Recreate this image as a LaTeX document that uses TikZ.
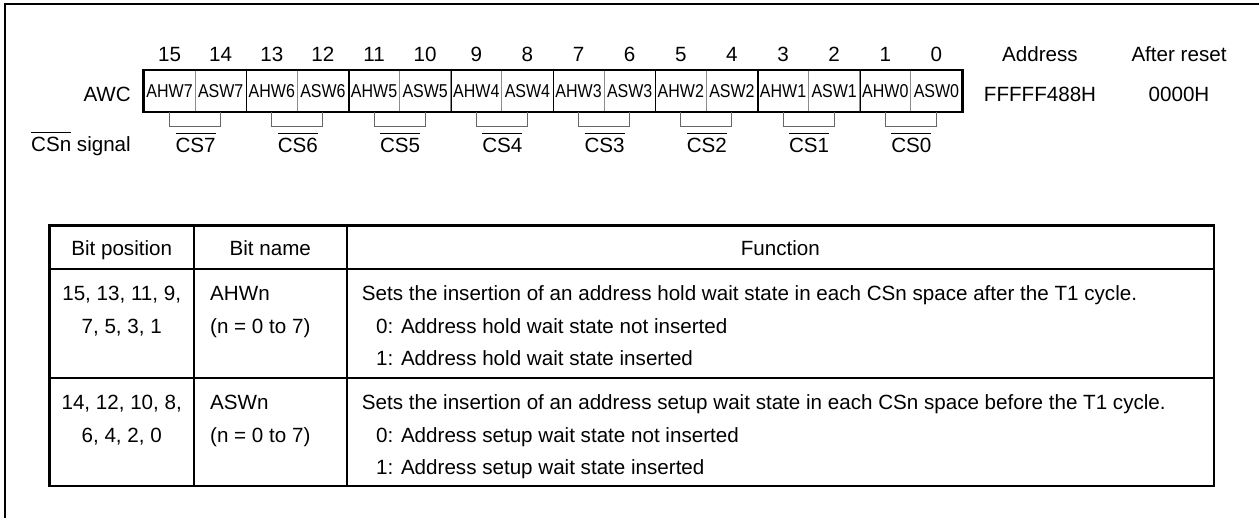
\documentclass[tikz,border=0pt]{standalone}
\usepackage{fontspec}
\setmainfont{Liberation Sans}
\newfontfamily\cellfont{Liberation Sans}[FakeStretch=0.86]
\usetikzlibrary{positioning,calc}

% bar over a signal name
\newcommand\barsig[1]{\vbox{\hrule height 0.9pt\kern4.3pt\hbox{#1}}}

\tikzset{
  txt/.style={inner sep=0pt, font=\fontsize{20.6}{24}\selectfont},
  cell/.style={draw=black!45, line width=0.9pt, minimum width=51.125pt,
    minimum height=41pt, inner sep=0pt, font=\fontsize{18.6}{22}\cellfont},
  brk/.style={draw=black!60, line width=1pt},
  heavy/.style={line width=2.4pt},
  light/.style={line width=1.7pt},
}

\begin{document}
\begin{tikzpicture}[x=1pt, y=-1pt]
  \useasboundingbox (0,0) rectangle (1259,518);

  % Frame
  \draw[line width=2pt] (5,518) -- (5,4) -- (1259,4);

  % Register cells and bit numbers
  \foreach \b in {15,14,...,0} {
    \pgfmathsetmacro\cx{169.56+51.125*(15-\b)}
    \pgfmathtruncatemacro\n{\b/2}
    \ifodd\b \def\lbl{AHW\n}\else \def\lbl{ASW\n}\fi
    \node[cell] (c\b) at (\cx,91.2) {\lbl};
    \node[txt, anchor=base] (b\b) at (\cx,61.7) {\b};
  }
  \foreach \b in {14,12,...,2}
    \draw[line width=1.2pt] (c\b.north east) -- (c\b.south east);
  \draw[line width=2.5pt] (c15.north west) rectangle (c0.south east);

  \node[txt, anchor=base east] (awc) at (131,101.7) {AWC};
  \node[txt, anchor=base east] (sig) at (131,151.7) {\barsig{CSn} signal};

  % CSn brackets
  \foreach \n in {7,6,...,0} {
    \pgfmathtruncatemacro\hi{2*\n+1}
    \pgfmathtruncatemacro\lo{2*\n}
    \draw[brk] (c\hi.south) -- ++(0,14.3) -| (c\lo.south);
    \node[txt, anchor=base] (cs\n) at ($(c\hi.south east)+(0,40)$) {\barsig{CS\n}};
  }

  % Address and reset value
  \node[txt, anchor=base] (addr) at (1040,61.7) {Address};
  \node[txt, anchor=base] (addrval) at (1040,101.7) {FFFFF488H};
  \node[txt, anchor=base] (rst) at (1179,61.7) {After reset};
  \node[txt, anchor=base] (rstval) at (1179,101.7) {0000H};

  % Table
  \draw[heavy] (49.3,225.7) rectangle (1214,486);
  \draw[heavy] (49.3,269.3) -- (1214,269.3);
  \draw[light] (49.3,377.7) -- (1214,377.7);
  \draw[light] (194,225.7) -- (194,486);
  \draw[light] (346.7,225.7) -- (346.7,486);

  \node[txt, anchor=base] (hpos) at (121.7,256) {Bit position};
  \node[txt, anchor=base] (hname) at (270.3,256) {Bit name};
  \node[txt, anchor=base] (hfun) at (780.4,256) {Function};

  % AHWn row
  \node[txt, anchor=base] (pos1a) at (121.7,300.8) {15, 13, 11, 9,};
  \node[txt, anchor=base] (pos1b) at (121.7,333.2) {7, 5, 3, 1};
  \node[txt, anchor=base west] (name1a) at (210,300.8) {AHWn};
  \node[txt, anchor=base west] (name1b) at (210,333.2) {(n = 0 to 7)};
  \node[txt, anchor=base west] (fun1a) at (361.7,300.8)
    {Sets the insertion of an address hold wait state in each CSn space after the T1 cycle.};
  \node[txt, anchor=base west] (fun1b) at (376,333.2) {0: Address hold wait state not inserted};
  \node[txt, anchor=base west] (fun1c) at (376,365.2) {1: Address hold wait state inserted};

  % ASWn row
  \node[txt, anchor=base] (pos2a) at (121.7,409.2) {14, 12, 10, 8,};
  \node[txt, anchor=base] (pos2b) at (121.7,442.2) {6, 4, 2, 0};
  \node[txt, anchor=base west] (name2a) at (210,409.2) {ASWn};
  \node[txt, anchor=base west] (name2b) at (210,442.2) {(n = 0 to 7)};
  \node[txt, anchor=base west] (fun2a) at (361.7,409.2)
    {Sets the insertion of an address setup wait state in each CSn space before the T1 cycle.};
  \node[txt, anchor=base west] (fun2b) at (376,442.2) {0: Address setup wait state not inserted};
  \node[txt, anchor=base west] (fun2c) at (376,474.2) {1: Address setup wait state inserted};
\end{tikzpicture}
\end{document}
